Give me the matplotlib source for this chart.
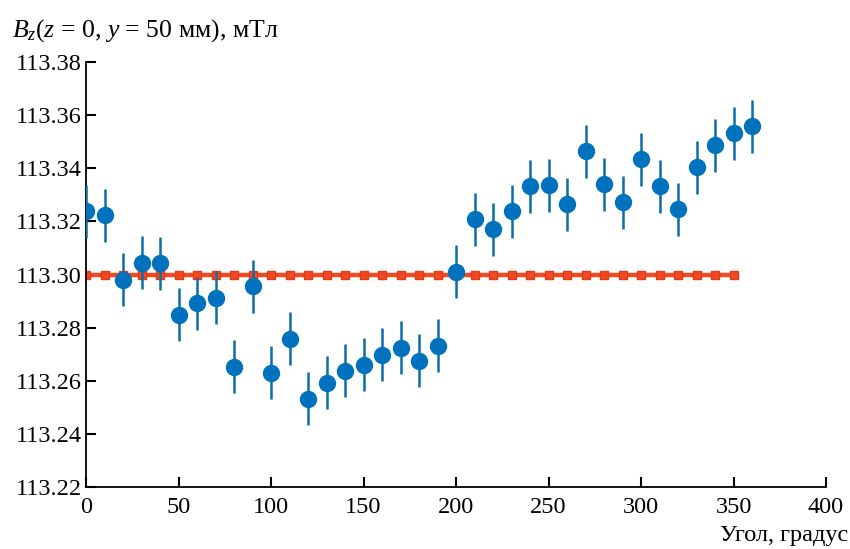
import numpy as np
import matplotlib
matplotlib.use("Agg")
from matplotlib import pyplot as plt

plt.rcParams['font.family'] = ['Liberation Serif', 'DejaVu Serif']
plt.rcParams['mathtext.fontset'] = 'custom'
plt.rcParams['mathtext.rm'] = 'Liberation Serif'
plt.rcParams['mathtext.it'] = 'Liberation Serif:italic'

# измеренные значения
angle = np.arange(0, 370, 10)
bz = [113.3238, 113.3223, 113.2981, 113.3045, 113.3042, 113.2849, 113.2891,
      113.2913, 113.2653, 113.2955, 113.2630, 113.2758, 113.2532, 113.2592,
      113.2638, 113.2660, 113.2698, 113.2725, 113.2675, 113.2732, 113.3011,
      113.3208, 113.3170, 113.3238, 113.3332, 113.3336, 113.3264, 113.3464,
      113.3340, 113.3272, 113.3434, 113.3332, 113.3245, 113.3404, 113.3487,
      113.3532, 113.3558]
bz_err = 0.01

# расчетное значение
calc_angle = np.arange(0, 360, 10)
calc_bz = np.full(len(calc_angle), 113.30)

fig = plt.figure(figsize=(8.5, 5.49), dpi=100)
ax = fig.add_axes([0.1012, 0.1129, 0.8706, 0.7742])

ax.plot(calc_angle, calc_bz, color='#F04A22', lw=3.2, marker='s', ms=6,
        mec='#E03A18', zorder=2)
ax.errorbar(angle, bz, yerr=bz_err, fmt='o', color='#0072BD', ms=11.5,
            ecolor='#0B6FA6', elinewidth=1.8, capsize=0, zorder=3)

ax.set_xlim(0, 400)
ax.set_ylim(113.22, 113.38)
ax.set_xticks(np.arange(0, 401, 50))
ax.set_yticks(np.arange(113.22, 113.381, 0.02))
ax.set_yticklabels([f"{v:.2f}" for v in np.arange(113.22, 113.381, 0.02)])

ax.spines['top'].set_visible(False)
ax.spines['right'].set_visible(False)
ax.spines['left'].set_linewidth(1.3)
ax.spines['bottom'].set_linewidth(1.3)
ax.tick_params(direction='in', length=7, width=1.5, labelsize=17.5, pad=3)
ax.tick_params(axis='x', pad=7)

fig.text(0.014, 0.945, r"$B_z$($z$ = 0, $y$ = 50 мм), мТл", fontsize=18.5,
         ha='left', va='center')
fig.text(0.998, 0.025, "Угол, градус", fontsize=17.5, ha='right', va='center')

fig.savefig("out.png", dpi=100)
